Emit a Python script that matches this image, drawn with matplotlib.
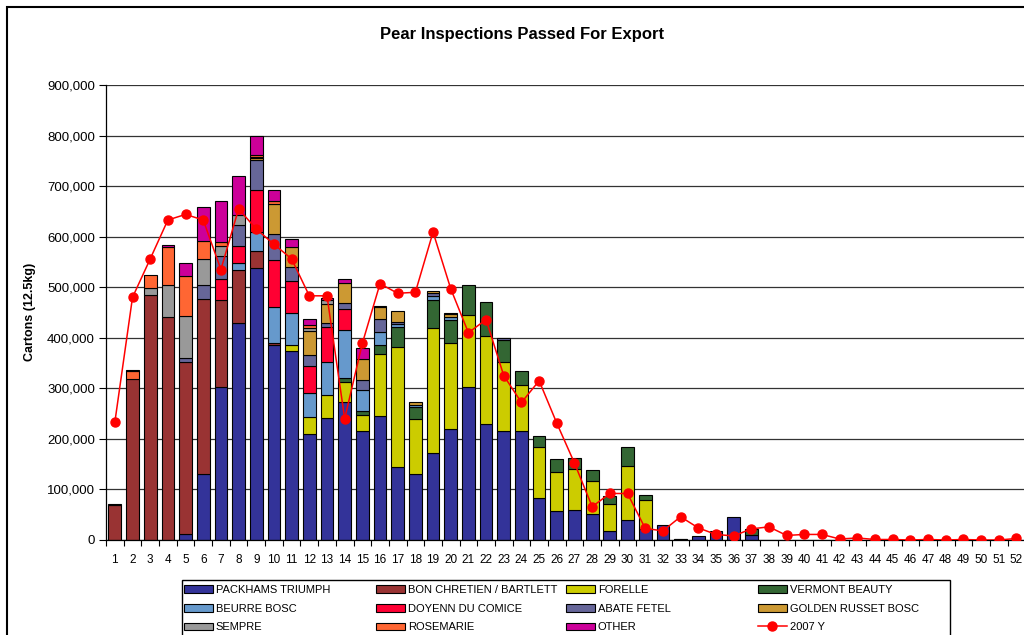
#!/usr/bin/env python3
"""Stacked weekly pear inspections with the 2007 total as a line."""
import numpy as np
import matplotlib
matplotlib.use('Agg')
import matplotlib.pyplot as plt
from matplotlib.patches import Rectangle
from matplotlib.ticker import FuncFormatter, MultipleLocator

plt.rcParams['font.family'] = ['Liberation Sans', 'DejaVu Sans']

weeks = np.arange(1, 53)

# cartons per week, in thousands (weeks 1..37, rest are zero)
packhams = [0, 0, 0, 0, 12, 131, 302, 430, 539, 385, 373, 209, 241, 272, 216,
            246, 145, 131, 172, 220, 302, 229, 216, 216, 84, 58, 59, 51, 18,
            40, 21, 30, 0, 8, 18, 46, 10]
bon_chretien = [70, 319, 485, 441, 340, 346, 173, 105, 32, 4]
forelle = [0, 0, 0, 0, 0, 0, 0, 0, 0, 0, 13, 34, 46, 41, 32, 122, 236, 108,
           247, 169, 144, 174, 137, 91, 99, 76, 82, 65, 53, 106, 59, 0, 1]
vermont = [0, 0, 0, 0, 0, 0, 0, 0, 0, 0, 0, 0, 0, 7, 8, 18, 41, 24, 56, 47,
           59, 68, 43, 28, 22, 26, 22, 23, 16, 37, 9, 0, 1, 0, 0, 0, 11]
beurre_bosc = [0, 0, 0, 0, 0, 0, 0, 13, 38, 72, 63, 47, 66, 96, 40, 25, 5, 4,
               7, 6]
doyenne = [0, 0, 0, 0, 0, 0, 42, 33, 84, 93, 63, 55, 68, 40]
abate_fetel = [0, 0, 0, 0, 8, 28, 44, 43, 59, 52, 28, 20, 9, 12, 20, 26, 5, 0,
               6, 0, 0, 0, 3]
golden_russet = [0, 0, 0, 0, 0, 0, 0, 0, 3, 59, 40, 49, 37, 41, 43, 23, 20, 6,
                 4, 5]
sempre = [0, 0, 14, 64, 84, 51, 20, 18, 3, 0, 0, 5, 8, 0, 0, 2]
rosemarie = [0, 16, 26, 74, 79, 35, 9, 0, 4, 5, 0, 7, 0, 0, 0, 0, 0, 0, 0, 2]
other = [1, 2, 0, 4, 24, 68, 81, 78, 38, 23, 15, 11, 3, 7, 20]

total_2007 = [233, 480, 556, 633, 644, 633, 535, 655, 615, 585, 556, 483, 483,
              240, 389, 507, 488, 490, 609, 497, 410, 436, 325, 272, 315, 231,
              152, 66, 92, 92, 23, 18, 46, 24, 11, 8, 22, 26, 9, 11, 11, 2, 4,
              1, 1, 0, 1, 0, 1, 0, 0, 3]

series = [
    ('PACKHAMS TRIUMPH', packhams, '#333399'),
    ('BON CHRETIEN / BARTLETT', bon_chretien, '#993333'),
    ('FORELLE', forelle, '#CCCC00'),
    ('VERMONT BEAUTY', vermont, '#336633'),
    ('BEURRE BOSC', beurre_bosc, '#6699CC'),
    ('DOYENN DU COMICE', doyenne, '#FF0033'),
    ('ABATE FETEL', abate_fetel, '#666699'),
    ('GOLDEN RUSSET BOSC', golden_russet, '#CC9933'),
    ('SEMPRE', sempre, '#999999'),
    ('ROSEMARIE', rosemarie, '#FF6633'),
    ('OTHER', other, '#CC0099'),
]


def full(values):
    """Pad a short weekly list with zeros up to 52 weeks, in cartons."""
    out = np.zeros(52)
    out[:len(values)] = values
    return out * 1000


fig = plt.figure(figsize=(10.24, 6.35), dpi=100)
ax = fig.add_axes([106 / 1024, 95 / 635, 919.3 / 1024, 455 / 635])

# Stacked bars
handles = []
bottom = np.zeros(52)
for name, values, color in series:
    h = full(values)
    shown = np.where(h > 0, h, np.nan)
    bars = ax.bar(weeks, shown, width=0.72, bottom=bottom, color=color,
                  edgecolor='black', linewidth=0.8, label=name, zorder=2)
    handles.append(bars)
    bottom = bottom + h

# 2007 line
line, = ax.plot(weeks, np.array(total_2007) * 1000, color='#FF0000',
                linewidth=1.1, marker='o', markersize=6.5,
                markerfacecolor='#FF0000', markeredgecolor='#FF0000',
                label='2007 Y', zorder=3)
handles.append(line)

# Axes styling
ax.set_xlim(0.5, 52.5)
ax.set_ylim(0, 900000)
ax.yaxis.set_major_locator(MultipleLocator(100000))
ax.yaxis.set_major_formatter(FuncFormatter(lambda v, p: f'{int(v):,}'))
ax.set_xticks(weeks)
ax.set_xticks(np.arange(0.5, 53, 1), minor=True)
ax.tick_params(axis='x', which='major', length=0, labelsize=8.5, pad=10)
ax.tick_params(axis='x', which='minor', length=4, width=0.8, direction='out')
ax.tick_params(axis='y', length=5, width=0.8, labelsize=9.5, pad=3)
ax.grid(axis='y', color='#333333', linewidth=0.9, zorder=0)
ax.set_axisbelow(True)
for side in ['top', 'right']:
    ax.spines[side].set_visible(False)
for side in ['left', 'bottom']:
    ax.spines[side].set_linewidth(0.9)

# Title and y label
fig.text(522 / 1024, 1 - 35 / 635, 'Pear Inspections Passed For Export',
         ha='center', va='center', fontsize=12, fontweight='bold')
fig.text(30 / 1024, 1 - 312 / 635, 'Cartons (12.5kg)', ha='center',
         va='center', rotation=90, fontsize=9, fontweight='bold')

# Legend: one frameless legend per column, rows read left to right
col_x = [184, 376, 566, 758]
for c, x in enumerate(col_x):
    items = [handles[c + 4 * r] for r in range(3)]
    fig.legend(items, [h.get_label() for h in items], loc='upper left',
               bbox_to_anchor=(x / 1024, 1 - 585 / 635), ncol=1,
               fontsize=8, frameon=False, handlelength=2.6,
               handleheight=0.7, handletextpad=0.25, labelspacing=0.78,
               borderpad=0, borderaxespad=0)
fig.patches.append(Rectangle((182 / 1024, -0.05), 768 / 1024,
                             0.05 + 1 - 580 / 635, transform=fig.transFigure,
                             fill=False, edgecolor='black', linewidth=1.0))

# Outer chart border (cut off at right and bottom)
fig.patches.append(Rectangle((7 / 1024, -0.05), 1.0, 1 - 7 / 635 + 0.05,
                             transform=fig.transFigure, fill=False,
                             edgecolor='black', linewidth=1.5))

fig.savefig('out.png', dpi=100)
